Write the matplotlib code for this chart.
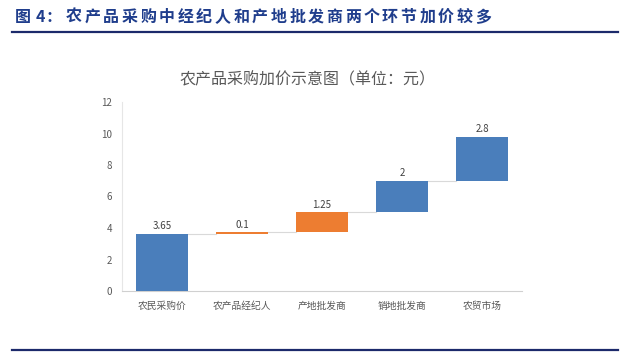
import matplotlib.pyplot as plt
from matplotlib.lines import Line2D

plt.rcParams['font.family'] = ['Noto Sans CJK SC', 'DejaVu Sans']

categories = ['农民采购价', '农产品经纪人', '产地批发商', '销地批发商', '农贸市场']
increments = [3.65, 0.1, 1.25, 2, 2.8]
bar_colors = ['#4A7EBB', '#ED7D31', '#ED7D31', '#4A7EBB', '#4A7EBB']
y_ticks = [0, 2, 4, 6, 8, 10, 12]

header_prefix = ['图', '4', '：']
header_body = '农产品采购中经纪人和产地批发商两个环节加价较多'
chart_title = '农产品采购加价示意图（单位：元）'

bases = []
total = 0
for v in increments:
    bases.append(total)
    total += v

fig = plt.figure(figsize=(6.32, 3.64), dpi=100)
ax = fig.add_axes([122 / 632, 1 - 291 / 364, 400 / 632, 189 / 364])

x = list(range(len(categories)))
ax.bar(x, increments, bottom=bases, width=0.64, color=bar_colors, zorder=3)

# connector lines between bar tops
for i in range(len(increments) - 1):
    top = bases[i] + increments[i]
    ax.plot([i + 0.32, i + 1 - 0.32], [top, top], color='#D9D9D9', lw=0.8, zorder=2)

for i, v in enumerate(increments):
    ax.text(i, bases[i] + v + 0.15, f'{v:g}', ha='center', va='bottom',
            fontsize=7, color='#404040')

ax.set_xlim(-0.5, len(categories) - 0.5)
ax.set_ylim(0, 12)
ax.set_yticks(y_ticks)
ax.set_xticks(x)
ax.set_xticklabels(categories)
ax.tick_params(axis='both', length=0, labelsize=7, colors='#595959')
ax.tick_params(axis='y', pad=7)
ax.tick_params(axis='x', pad=7)
for s in ['top', 'right']:
    ax.spines[s].set_visible(False)
ax.spines['left'].set_color('#E6E6E6')
ax.spines['bottom'].set_color('#D0D0D0')

fig.text(308 / 632, 1 - 80 / 364, chart_title, ha='center', va='center',
         fontsize=11.5, color='#595959')

# header, spread out like the report's letter-spaced title
hy = 1 - 17 / 364
hstyle = dict(ha='center', va='center', fontsize=11.5, fontweight='bold', color='#1F3D8C')
for ch, px in zip(header_prefix, [23, 40, 54]):
    fig.text(px / 632, hy, ch, **hstyle)
pitch = (483 - 74) / (len(header_body) - 1)
for i, ch in enumerate(header_body):
    fig.text((74 + i * pitch) / 632, hy, ch, **hstyle)

fig.add_artist(Line2D([12 / 632, 618 / 632], [1 - 32 / 364, 1 - 32 / 364],
                      color='#1C2A6B', lw=1.6))
fig.add_artist(Line2D([12 / 632, 618 / 632], [1 - 350 / 364, 1 - 350 / 364],
                      color='#1C2A6B', lw=1.6))

fig.savefig('out.png', dpi=100)
